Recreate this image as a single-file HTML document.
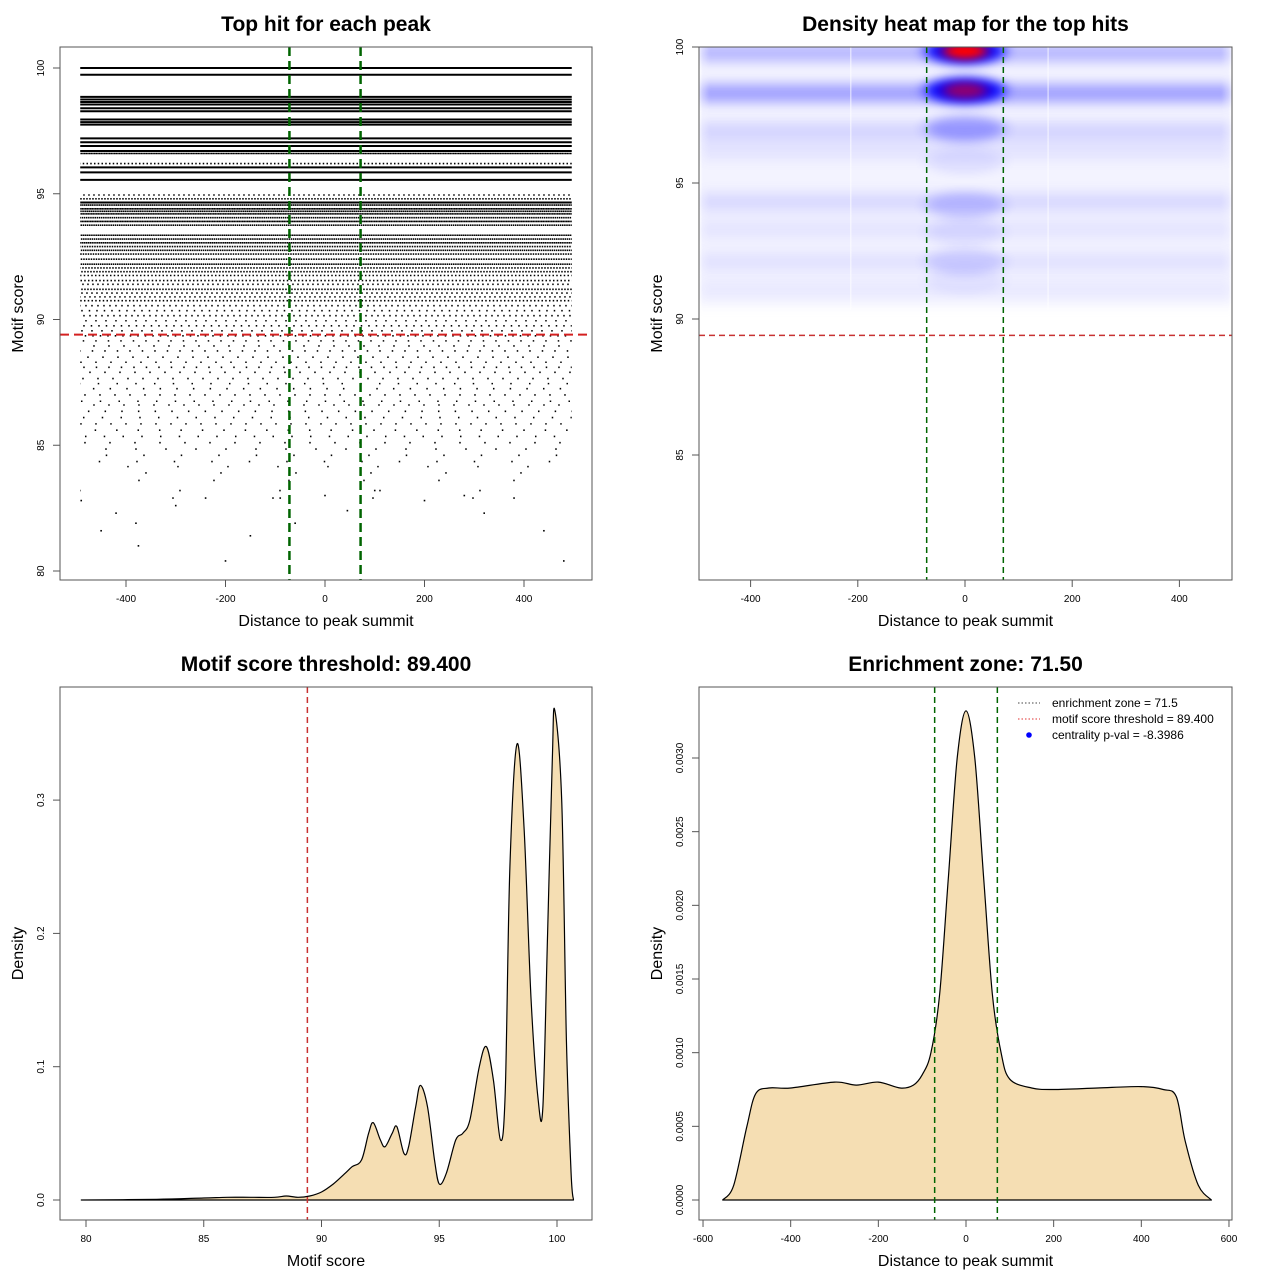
<!DOCTYPE html>
<html><head><meta charset="utf-8"><title>Motif centrality plots</title>
<style>
html,body{margin:0;padding:0;background:#fff;}
svg{display:block;font-family:"Liberation Sans",sans-serif;}
</style></head>
<body>
<svg id="root" width="1280" height="1280" viewBox="0 0 1280 1280" xmlns="http://www.w3.org/2000/svg">
<defs>
<filter id="blurV" x="-5%" y="-100%" width="110%" height="300%"><feGaussianBlur stdDeviation="1 6"/></filter>
<filter id="blurB" x="-50%" y="-100%" width="200%" height="300%"><feGaussianBlur stdDeviation="7 5"/></filter>
<filter id="blurR" x="-50%" y="-100%" width="200%" height="300%"><feGaussianBlur stdDeviation="6 4"/></filter>
<linearGradient id="bandGrad" x1="0" x2="1" y1="0" y2="0">
<stop offset="0" stop-color="#5a5aff" stop-opacity="0.3"/>
<stop offset="0.02" stop-color="#5a5aff" stop-opacity="1"/>
<stop offset="0.98" stop-color="#5a5aff" stop-opacity="1"/>
<stop offset="1" stop-color="#5a5aff" stop-opacity="0.3"/>
</linearGradient>
<clipPath id="clip2"><rect x="699" y="47" width="533" height="533"/></clipPath>
</defs>
</svg>
<script>
// ---------- DATA ----------
const hitLevels = [100.0,99.73,98.85,98.75,98.65,98.55,98.4,98.28,97.95,97.85,97.75,97.2,97.05,96.9,96.7,96.6,96.2,96.05,95.85,95.55,94.95,94.8,94.65,94.55,94.4,94.3,94.2,94.05,93.9,93.75,93.35,93.2,93.05,92.9,92.75,92.6,92.4,92.2,92.05,91.9,91.75,91.55,91.4,91.2,91.05,90.9,90.75,90.55,90.35,90.15,89.95,89.75,89.55,89.35,89.15,88.95,88.75,88.5,88.3,88.1,87.9,87.65,87.45,87.25,87.0,86.75,86.6,86.35,86.1,85.85,85.6,85.35,85.1,84.85,84.6,84.35,84.15,83.9,83.6,83.2,82.9];
const hitCoverage = [1,1,1,1,1,1,1,1,1,1,1,1,1,1,1,0.9,0.4,1,1,1,0.3,0.5,1,0.8,0.9,0.8,0.9,0.7,0.9,0.7,0.8,0.7,0.8,0.6,0.7,0.6,0.6,0.7,0.5,0.5,0.4,0.4,0.3,0.5,0.3,0.3,0.4,0.25,0.2,0.25,0.15,0.2,0.15,0.2,0.12,0.1,0.12,0.1,0.1,0.12,0.1,0.1,0.08,0.09,0.1,0.08,0.1,0.09,0.08,0.1,0.07,0.08,0.06,0.05,0.04,0.04,0.03,0.02,0.02,0.015,0.015];
const lowHitDist = [-490,-450,-420,-380,-375,-200,-150,-60,45,320,440,480,-300,200,280,-90,100,380,-240,0];
const lowHitScore = [82.8,81.6,82.3,81.9,81.0,80.4,81.4,81.9,82.4,82.3,81.6,80.4,82.6,82.8,83.0,82.9,83.2,82.9,82.9,83.0];
const threshold = 89.4;
const zone = 71.5;
const bandScore = [99.8,98.3,96.9,96.2,94.3,93.3,92.1,91.1];
const bandIntensity = [0.4,0.55,0.2,0.1,0.17,0.09,0.11,0.06];
const blobScore = [99.85,98.4,97.0,95.8,94.2,93.2,92.1,91.4];
const blobIntensity = [1.0,1.0,0.3,0.08,0.18,0.08,0.12,0.05];
const blobRed = [1.0,0.55,0,0,0,0,0,0];
const scoreX = [79.8,83,85,86,87,88,88.5,89,89.5,90,90.5,91,91.3,91.7,92,92.2,92.5,92.7,93,93.2,93.5,93.7,94,94.2,94.5,94.8,95,95.3,95.7,96,96.3,96.7,97,97.3,97.6,97.8,98,98.3,98.6,98.9,99.2,99.4,99.6,99.8,99.9,100.2,100.4,100.6,100.7];
const scoreDens = [0,0.0005,0.0015,0.002,0.002,0.002,0.003,0.002,0.003,0.006,0.012,0.02,0.025,0.03,0.05,0.058,0.045,0.04,0.05,0.055,0.035,0.04,0.07,0.086,0.07,0.03,0.012,0.02,0.045,0.05,0.06,0.1,0.115,0.09,0.045,0.08,0.25,0.342,0.28,0.15,0.075,0.07,0.2,0.33,0.368,0.3,0.12,0.02,0];
const distX = [-555,-530,-500,-480,-450,-400,-300,-250,-200,-150,-120,-100,-80,-60,-40,-20,0,20,40,60,80,100,150,200,300,400,450,480,500,530,560];
const distDens = [0,0.0001,0.0005,0.00072,0.00076,0.00076,0.0008,0.00078,0.0008,0.00076,0.00078,0.00085,0.001,0.0014,0.0022,0.003,0.00332,0.003,0.0022,0.0014,0.001,0.00082,0.00076,0.00075,0.00076,0.00077,0.00075,0.0007,0.0004,0.0001,0];
const p1XTicks = [-400,-200,0,200,400];
const p1YTicks = [80,85,90,95,100];
const p2YTicks = [85,90,95,100];
const p3XTicks = [80,85,90,95,100];
const p3YTicks = [0,0.1,0.2,0.3];
const p3YLabels = ["0.0","0.1","0.2","0.3"];
const p4XTicks = [-600,-400,-200,0,200,400,600];
const p4YTicks = [0,0.0005,0.001,0.0015,0.002,0.0025,0.003];
const p4YLabels = ["0.0000","0.0005","0.0010","0.0015","0.0020","0.0025","0.0030"];

const x1 = d => 325 + d*0.4975, y1 = s => 68 + (100-s)*25.15;
const x2 = d => 965 + d*0.536,  y2 = s => 47 + (100-s)*27.2;
const x3 = s => 86 + (s-80)*23.55, y3 = v => 1200 - v*1333;
const x4 = d => 966 + d*0.4383, y4 = v => 1200 - v*147333;

const NS = "http://www.w3.org/2000/svg";
const root = document.getElementById('root');
function mk(tag, attrs, parent){
  const el = document.createElementNS(NS, tag);
  for (const k in attrs) el.setAttribute(k, attrs[k]);
  (parent||root).appendChild(el);
  return el;
}
function txt(x,y,s,size,opts,parent){
  const el = mk('text',Object.assign({x:x,y:y,'font-size':size,'text-anchor':'middle',fill:'#000'},opts||{}),parent);
  el.textContent = s;
  return el;
}
function smooth(pts){
  let d = 'M'+pts[0][0].toFixed(1)+','+pts[0][1].toFixed(1);
  for (let i=0;i<pts.length-1;i++){
    const p0 = pts[Math.max(0,i-1)], p1 = pts[i], p2 = pts[i+1], p3 = pts[Math.min(pts.length-1,i+2)];
    const c1x = p1[0]+(p2[0]-p0[0])/6, c1y = p1[1]+(p2[1]-p0[1])/6;
    const c2x = p2[0]-(p3[0]-p1[0])/6, c2y = p2[1]-(p3[1]-p1[1])/6;
    d += ' C'+c1x.toFixed(1)+','+Math.min(c1y,1200).toFixed(1)+' '+c2x.toFixed(1)+','+Math.min(c2y,1200).toFixed(1)+' '+p2[0].toFixed(1)+','+p2[1].toFixed(1);
  }
  return d;
}

function panel(name, box, title, xlab, ylab, xt, xtl, xs, yt, ytl, ys){
  const g = mk('g',{});
  
  
  const r = mk('rect',{x:box[0],y:box[1],width:box[2]-box[0],height:box[3]-box[1],fill:'none',stroke:'#555','stroke-width':1},g);
  
  
  const t = txt((box[0]+box[2])/2, box[1]-16, title, 21, {'font-weight':'bold'}, g);
  
  
  const xl = txt((box[0]+box[2])/2, box[3]+46, xlab, 16, {}, g);
  
  
  const cy = (box[1]+box[3])/2;
  const yx = box[0]-43;
  const yl = txt(yx, cy+6, ylab, 16, {transform:'rotate(-90 '+yx+' '+cy+')'}, g);
  
  
  const ax = mk('g',{stroke:'#555','stroke-width':1},g);
  
  
  xt.forEach((v,i)=>{
    const px = xs(v);
    mk('line',{x1:px,x2:px,y1:box[3],y2:box[3]+7},ax);
    const l = txt(px, box[3]+22, xtl[i], 10, {stroke:'none'}, g);
    
    
  });
  const ay = mk('g',{stroke:'#555','stroke-width':1},g);
  
  
  yt.forEach((v,i)=>{
    const py = ys(v);
    mk('line',{x1:box[0]-7,x2:box[0],y1:py,y2:py},ay);
    const lx = box[0]-16;
    const l = txt(lx, py, ytl[i], 10, {transform:'rotate(-90 '+lx+' '+py+')'}, g);
    
    
  });
  return g;
}

// ---------- PANEL 1 ----------
const g1 = mk('g',{});


hitLevels.forEach((s,i)=>{
  const c = hitCoverage[i];
  const a = {x1:x1(-492),x2:x1(496),y1:y1(s),y2:y1(s),stroke:'#000','stroke-width':c>=0.95?2:1.6};
  if (c<0.95){ a['stroke-dasharray']='1.5,'+(1.5/c-1.5).toFixed(2); a['stroke-dashoffset']=(i*7)%23; }
  const l = mk('line',a,g1);
  
  
});
lowHitDist.forEach((d,i)=>{
  const p = mk('rect',{x:x1(d)-0.8,y:y1(lowHitScore[i])-0.8,width:1.6,height:1.6,fill:'#000'},g1);
  
  
});
[-zone,zone].forEach(z=>{
  const l = mk('line',{x1:x1(z),x2:x1(z),y1:47,y2:580,stroke:'#006400','stroke-width':2.5,'stroke-dasharray':'9,5'},g1);
  
  
});
const th1 = mk('line',{x1:60,x2:592,y1:y1(threshold),y2:y1(threshold),stroke:'#d42020','stroke-width':2,'stroke-dasharray':'9,5'},g1);


panel('top-hit-panel',[60,47,592,580],'Top hit for each peak','Distance to peak summit','Motif score',p1XTicks,p1XTicks,x1,p1YTicks,p1YTicks,y1);

// ---------- PANEL 2 ----------
const g2 = mk('g',{'clip-path':'url(#clip2)'});


const wash = mk('rect',{x:701,y:y2(100),width:529,height:y2(90.5)-y2(100),fill:'#d8d8ff',opacity:0.3,filter:'url(#blurV)'},g2);


bandScore.forEach((s,i)=>{
  const b = mk('rect',{x:699,y:y2(s)-9,width:533,height:18,fill:'url(#bandGrad)',opacity:bandIntensity[i],filter:'url(#blurV)'},g2);
  
  
});
blobScore.forEach((s,i)=>{
  const e = mk('ellipse',{cx:x2(0),cy:y2(s),rx:40,ry:13,fill:'#0000ff',opacity:blobIntensity[i],filter:'url(#blurB)'},g2);
  
  
  if (blobRed[i]>0){
    const r = mk('ellipse',{cx:x2(0),cy:y2(s),rx:22,ry:8,fill:'#ff0000',opacity:blobRed[i],filter:'url(#blurR)'},g2);
    
    
  }
});
[-213,155].forEach(d=>{
  const l = mk('line',{x1:x2(d),x2:x2(d),y1:47,y2:310,stroke:'#fff','stroke-width':1,opacity:0.8},g2);
  
  
});
[-zone,zone].forEach(z=>{
  const l = mk('line',{x1:x2(z),x2:x2(z),y1:47,y2:580,stroke:'#006400','stroke-width':1.5,'stroke-dasharray':'6,4'});
  
  
});
const th2 = mk('line',{x1:699,x2:1232,y1:y2(threshold),y2:y2(threshold),stroke:'#c83232','stroke-width':1.5,'stroke-dasharray':'6,4'});


panel('heatmap-panel',[699,47,1232,580],'Density heat map for the top hits','Distance to peak summit','Motif score',p1XTicks,p1XTicks,x2,p2YTicks,p2YTicks,y2);

// ---------- PANEL 3 ----------
const pts3 = scoreX.map((s,i)=>[x3(s), y3(scoreDens[i])]);
const d3 = smooth(pts3) + ' Z';
const a3 = mk('path',{d:d3,fill:'#f5deb3',stroke:'#000','stroke-width':1.2,'stroke-linejoin':'round'});


const th3 = mk('line',{x1:x3(threshold),x2:x3(threshold),y1:687,y2:1220,stroke:'#c83232','stroke-width':1.5,'stroke-dasharray':'6,4'});


panel('score-threshold-panel',[60,687,592,1220],'Motif score threshold: 89.400','Motif score','Density',p3XTicks,p3XTicks,x3,p3YTicks,p3YLabels,y3);

// ---------- PANEL 4 ----------
const pts4 = distX.map((d,i)=>[x4(d), y4(distDens[i])]);
const d4 = smooth(pts4) + ' Z';
const a4 = mk('path',{d:d4,fill:'#f5deb3',stroke:'#000','stroke-width':1.2,'stroke-linejoin':'round'});


[-zone,zone].forEach(z=>{
  const l = mk('line',{x1:x4(z),x2:x4(z),y1:687,y2:1220,stroke:'#006400','stroke-width':1.5,'stroke-dasharray':'6,4'});
  
  
});
panel('enrichment-zone-panel',[699,687,1232,1220],'Enrichment zone: 71.50','Distance to peak summit','Density',p4XTicks,p4XTicks,x4,p4YTicks,p4YLabels,y4);

const lg = mk('g',{});


const e1 = mk('line',{x1:1018,x2:1040,y1:703,y2:703,stroke:'#444','stroke-width':1,'stroke-dasharray':'1.5,2'},lg);


const e2 = mk('line',{x1:1018,x2:1040,y1:719,y2:719,stroke:'#e03030','stroke-width':1,'stroke-dasharray':'1.5,2'},lg);


const e3 = mk('circle',{cx:1029,cy:735,r:2.8,fill:'#0000ff'},lg);


const t1 = txt(1052,707,'enrichment zone = 71.5',12,{'text-anchor':'start'},lg);


const t2 = txt(1052,723,'motif score threshold = 89.400',12,{'text-anchor':'start'},lg);


const t3 = txt(1052,739,'centrality p-val = -8.3986',12,{'text-anchor':'start'},lg);


</script>
</body></html>
